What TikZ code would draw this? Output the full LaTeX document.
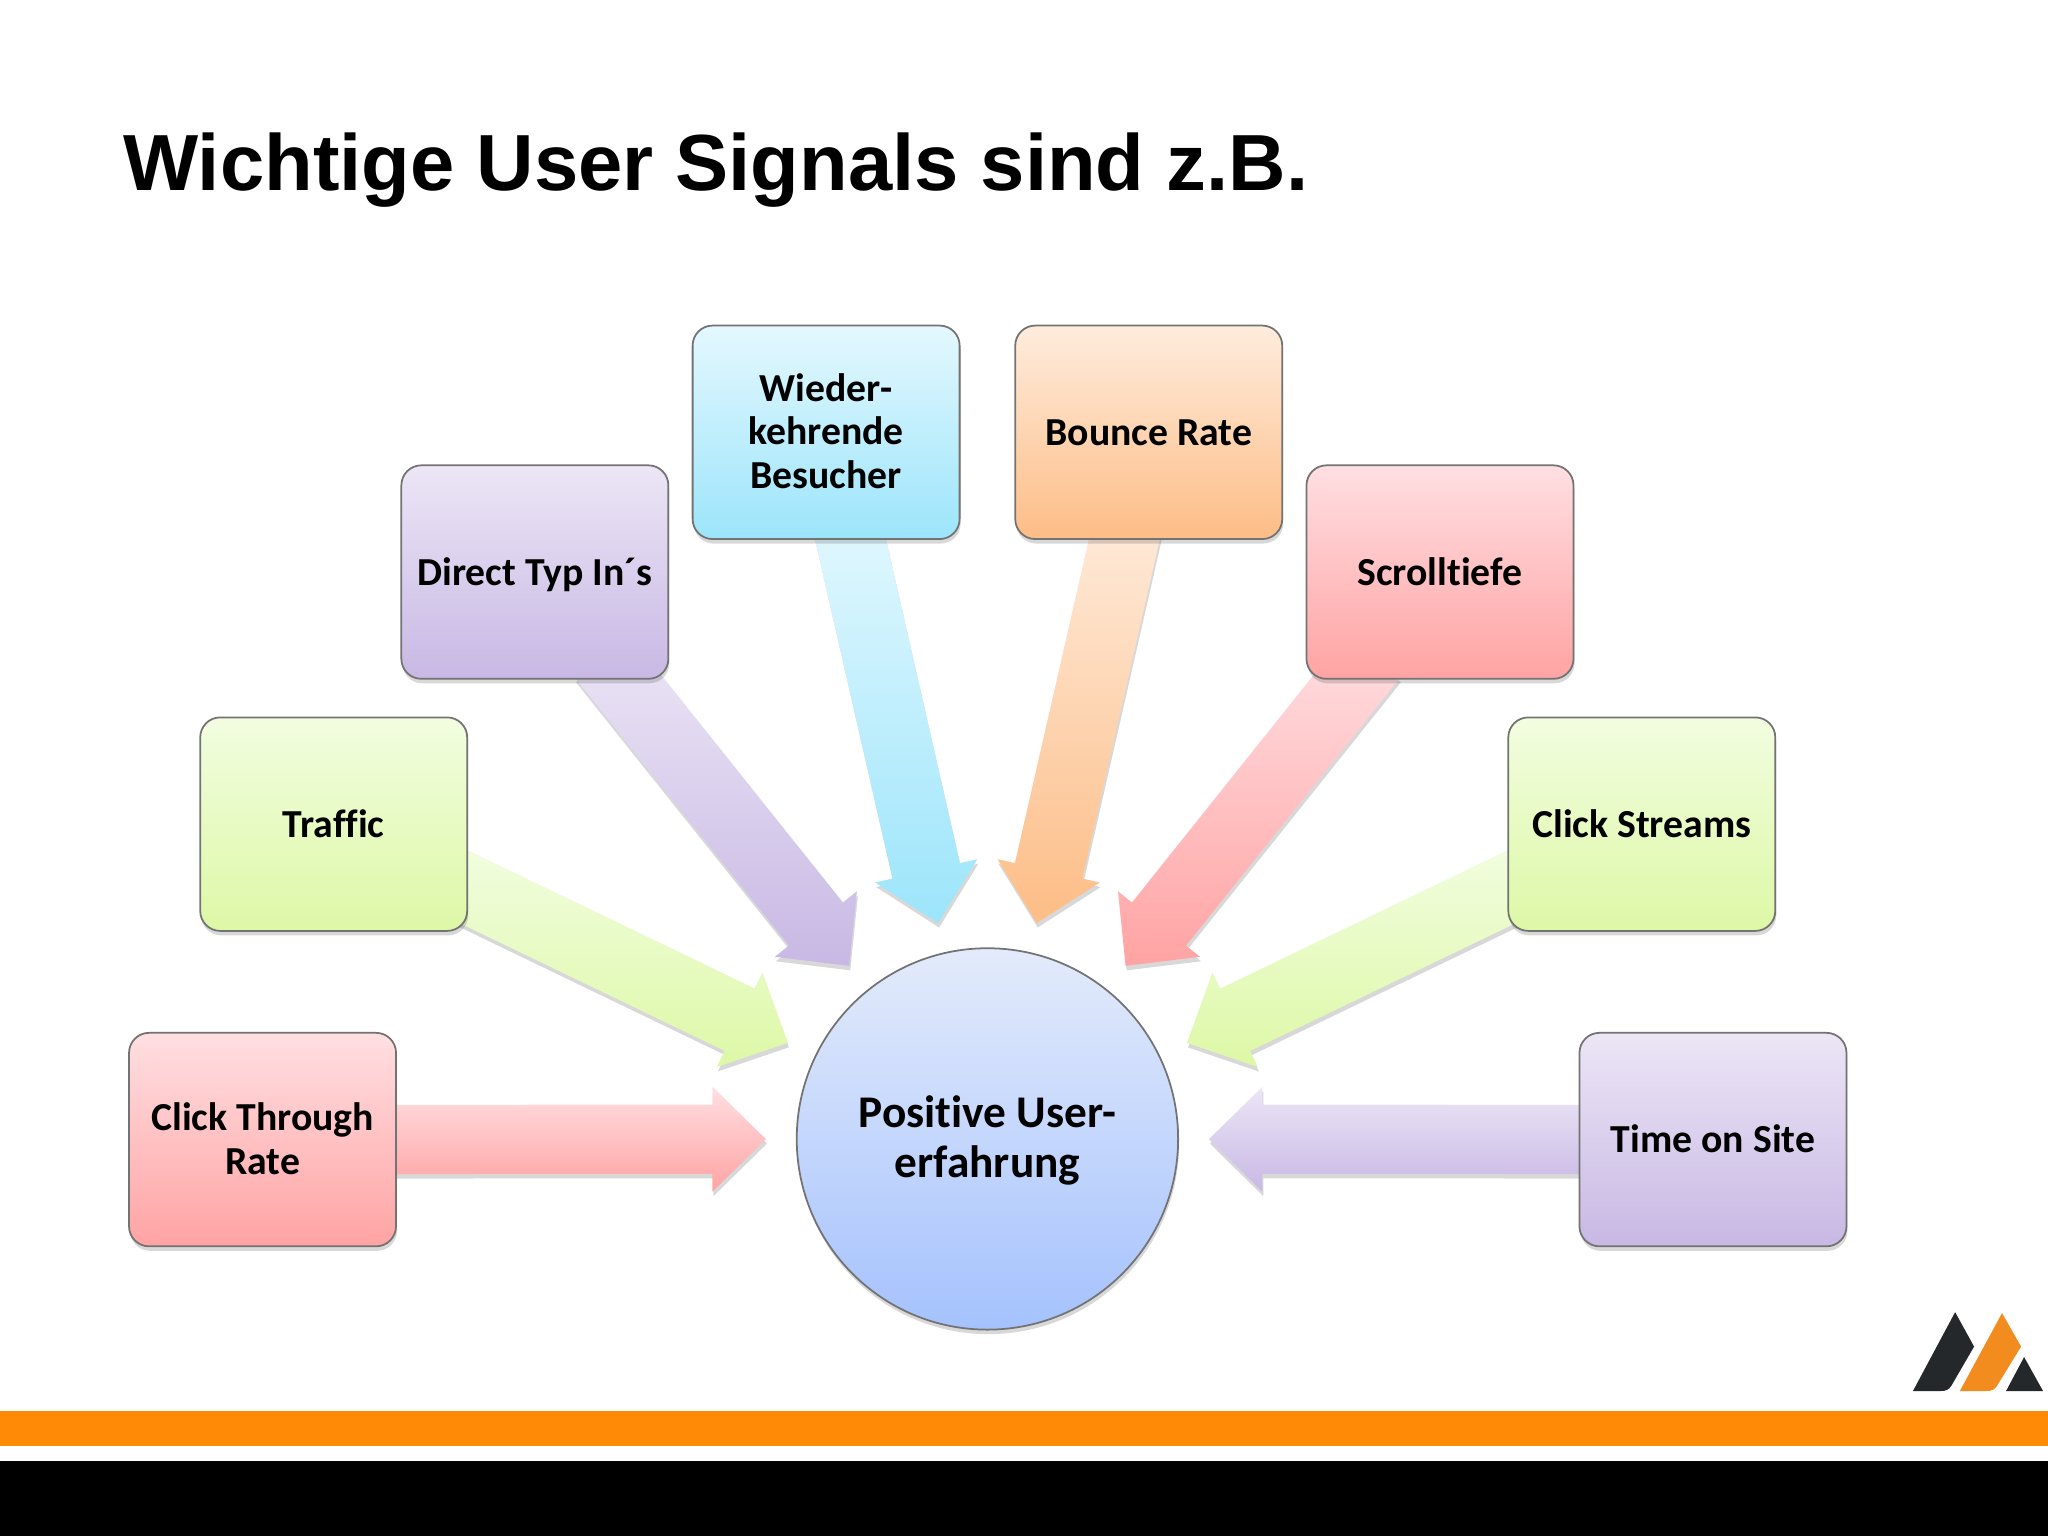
\documentclass[tikz,border=0pt]{standalone}
\usepackage{fontspec}
\setmainfont[Ligatures=NoCommon]{Carlito}
\newfontfamily\titlefont{Liberation Sans}
\usetikzlibrary{calc,shadows,backgrounds}

\definecolor{redT}{HTML}{FFDFE2}
\definecolor{redB}{HTML}{FFA3A3}
\definecolor{greenT}{HTML}{F2FDE0}
\definecolor{greenB}{HTML}{DDF8A6}
\definecolor{violetT}{HTML}{ECE6F6}
\definecolor{violetB}{HTML}{C8B8E4}
\definecolor{skyT}{HTML}{E4F8FE}
\definecolor{skyB}{HTML}{9CE5FB}
\definecolor{peachT}{HTML}{FEECDD}
\definecolor{peachB}{HTML}{FDBD86}
\definecolor{circT}{HTML}{E3EBFB}
\definecolor{circB}{HTML}{A5C2FD}
\definecolor{barorange}{HTML}{FF8A05}
\definecolor{logodark}{HTML}{25282B}
\definecolor{logoorange}{HTML}{F28C1E}

\tikzset{
  softshadow/.style={drop shadow={shadow xshift=.1mm, shadow yshift=-.45mm, opacity=.22, fill=black!70}},
  signalbox/.style 2 args={rectangle, rounded corners=2mm, draw=black!55, line width=.5pt,
    top color=#1, bottom color=#2, minimum width=26.7mm, minimum height=21.35mm,
    inner sep=0pt, align=center, text depth=.74pt, font=\fontsize{11.3}{12.5}\selectfont\bfseries, softshadow},
  oneline/.style={text height=8.1pt},
  hubcircle/.style={circle, draw=black!55, line width=.5pt, top color=circT, bottom color=circB,
    minimum size=38.14mm, inner sep=0pt, align=center, text height=24.3pt,
    font=\fontsize{12.9}{14.2}\selectfont\bfseries, softshadow}
}

\begin{document}
\begin{tikzpicture}[x=0.13061mm, y=-0.13061mm]
  \useasboundingbox (0, 0) rectangle (1568, 1176);

  \node[anchor=base west, inner sep=0pt, font=\titlefont\fontsize{22.65}{27}\selectfont\bfseries] (title) at (94, 146) {Wichtige User Signals sind z.B.};

  \node[hubcircle] (hub) at (756, 872) {Positive User-\\erfahrung};

  \node[signalbox={redT}{redB}] (ctr) at (201, 872.5) {Click Through\\Rate};
  \node[signalbox={greenT}{greenB}, oneline] (traffic) at (255.5, 631) {Traffic};
  \node[signalbox={violetT}{violetB}, oneline] (typein) at (409.5, 438) {Direct Typ In´s};
  \node[signalbox={skyT}{skyB}] (visitors) at (632.5, 331) {Wieder-\\kehrende\\Besucher};
  \node[signalbox={peachT}{peachB}, oneline] (bounce) at (879.5, 331) {Bounce Rate};
  \node[signalbox={redT}{redB}, oneline] (scroll) at (1102.5, 438) {Scrolltiefe};
  \node[signalbox={greenT}{greenB}, oneline] (streams) at (1257, 631) {Click Streams};
  \node[signalbox={violetT}{violetB}, oneline] (onsite) at (1311.5, 872.5) {Time on Site};

  % block arrows, behind the boxes
  \begin{scope}[on background layer]
    \foreach \from/\ctop/\cbot in {ctr/redT/redB, traffic/greenT/greenB, typein/violetT/violetB,
        visitors/skyT/skyB, bounce/peachT/peachB, scroll/redT/redB,
        streams/greenT/greenB, onsite/violetT/violetB} {
      \path (\from) -- (hub) coordinate[pos=0] (edge) ;
      \coordinate (tail) at ($(edge)!-3mm!(hub)$) ;
      \coordinate (tip) at ($(hub.center)!22.15mm!(\from.center)$) ;
      \coordinate (neck) at ($(hub.center)!27.5mm!(\from.center)$) ;
      \path[top color=\ctop, bottom color=\cbot, softshadow]
        ($(tail)!3.46mm!90:(tip)$) -- ($(neck)!3.46mm!-90:(\from.center)$)
        -- ($(neck)!5.25mm!-90:(\from.center)$) -- (tip)
        -- ($(neck)!5.25mm!90:(\from.center)$) -- ($(neck)!3.46mm!90:(\from.center)$)
        -- ($(tail)!3.46mm!-90:(tip)$) -- cycle ;
    }
  \end{scope}

  % logo
  \fill[logodark] (1496.9, 1004.6) -- (1511.4, 1031) -- (1494, 1061) .. controls (1492, 1064) and (1490, 1065) .. (1486, 1065) -- (1464.6, 1065) -- cycle ;
  \fill[logoorange] (1532.8, 1005.3) -- (1547.4, 1031) -- (1529, 1061) .. controls (1527, 1064) and (1525, 1065) .. (1521, 1065) -- (1500.5, 1065) -- cycle ;
  \fill[logodark] (1549.7, 1039) -- (1564.2, 1065) -- (1535.9, 1065) -- cycle ;

  % footer bars
  \fill[barorange] (0, 1080) rectangle (1568, 1107) ;
  \fill[black] (0, 1118.6) rectangle (1568, 1176) ;
\end{tikzpicture}
\end{document}
